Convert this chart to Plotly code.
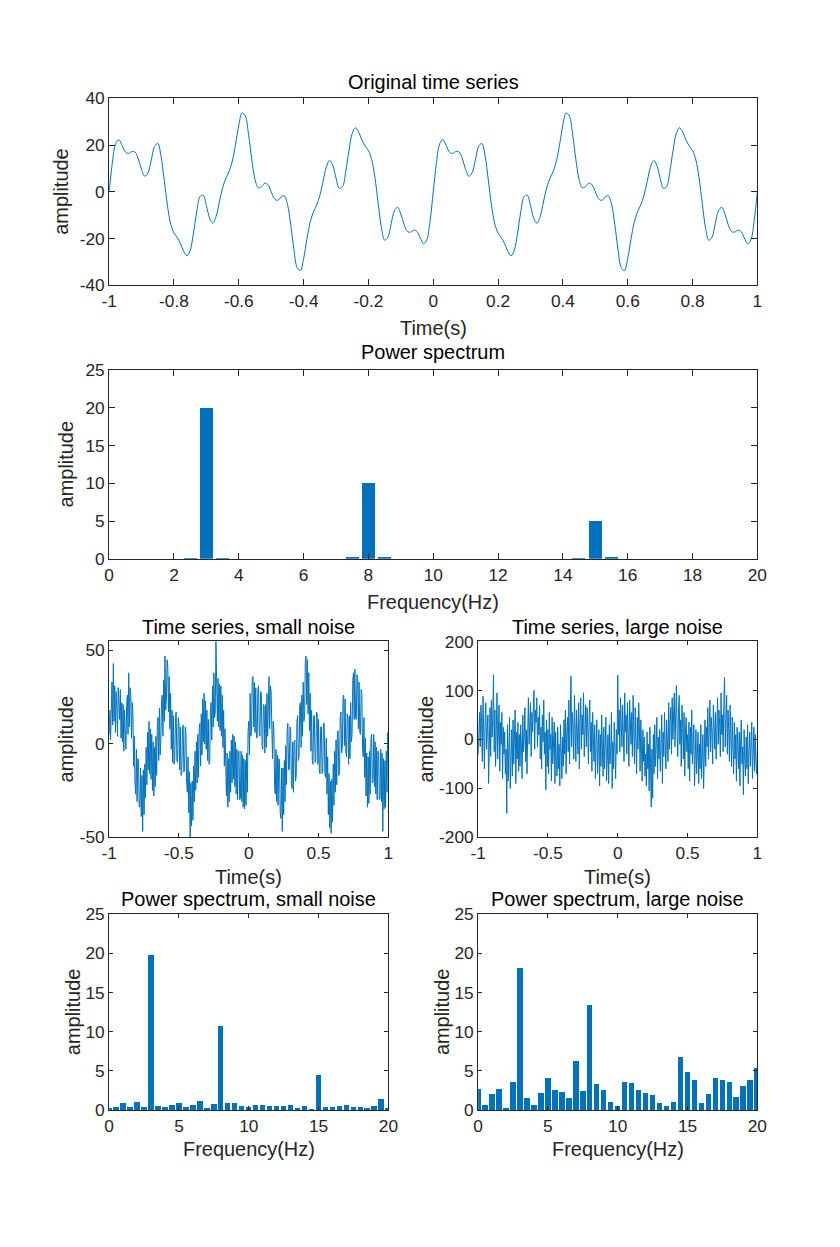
import numpy as np
import plotly.graph_objects as go

# ---------------- data ----------------
time_clean = np.linspace(-1, 1, 201)
amp_clean = [
    0, 12.61, 20.56, 22.24, 19.80, 17.06, 16.41, 17.24, 17.01, 14.06, 9.51, 6.64, 8.17, 13.69, 19.42, 20.69,
    15.27, 4.90, -6.05, -13.81, -17.63, -19.58, -22.11, -25.50, -27.40, -25.00, -17.77, -8.61, -2.15, -1.49,
    -5.88, -11.31, -13.41, -10.51, -4.38, 1.67, 5.73, 8.72, 13.14, 20.33, 28.53, 33.71, 32.42, 24.60, 13.91,
    5.30, 1.70, 2.28, 3.67, 2.98, 0, -2.98, -3.67, -2.28, -1.70, -5.30, -13.91, -24.60, -32.42, -33.71,
    -28.53, -20.33, -13.14, -8.72, -5.73, -1.67, 4.38, 10.51, 13.41, 11.31, 5.88, 1.49, 2.15, 8.61, 17.77,
    25.00, 27.40, 25.50, 22.11, 19.58, 17.63, 13.81, 6.05, -4.90, -15.27, -20.69, -19.42, -13.69, -8.17,
    -6.64, -9.51, -14.06, -17.01, -17.24, -16.41, -17.06, -19.80, -22.24, -20.56, -12.61, 0,
    12.61, 20.56, 22.24, 19.80, 17.06, 16.41, 17.24, 17.01, 14.06, 9.51, 6.64, 8.17, 13.69, 19.42, 20.69,
    15.27, 4.90, -6.05, -13.81, -17.63, -19.58, -22.11, -25.50, -27.40, -25.00, -17.77, -8.61, -2.15, -1.49,
    -5.88, -11.31, -13.41, -10.51, -4.38, 1.67, 5.73, 8.72, 13.14, 20.33, 28.53, 33.71, 32.42, 24.60, 13.91,
    5.30, 1.70, 2.28, 3.67, 2.98, 0, -2.98, -3.67, -2.28, -1.70, -5.30, -13.91, -24.60, -32.42, -33.71,
    -28.53, -20.33, -13.14, -8.72, -5.73, -1.67, 4.38, 10.51, 13.41, 11.31, 5.88, 1.49, 2.15, 8.61, 17.77,
    25.00, 27.40, 25.50, 22.11, 19.58, 17.63, 13.81, 6.05, -4.90, -15.27, -20.69, -19.42, -13.69, -8.17,
    -6.64, -9.51, -14.06, -17.01, -17.24, -16.41, -17.06, -19.80, -22.24, -20.56, -12.61, 0,
]

time_noisy = np.linspace(-1, 1, 401)
amp_small_noise = [
    5, 18, 2, 28, 33, 10, 43, 12, 31, 6, 28, 19, 4, 30, 24, 13, 29, 3, 22, 1,
    21, -4, 18, 2, -3, 20, 26, 5, 38, 9, 30, 26, 3, 22, 17, -12, 4, -21, -27, -3,
    -31, -8, -9, -34, -33, -13, -39, -17, -47, -14, -38, -11, -29, -2, -22, 6, -14, 12, -16, 8,
    -19, 5, -25, 1, -28, -2, -23, 4, -17, 11, 14, -9, 19, -6, 2, 23, 26, 4, 34, 12,
    47, 18, 24, 45, 41, 17, 36, 8, 27, -3, 18, -10, 15, -11, -8, 14, 17, -9, -10, 14,
    11, -14, 9, -17, -16, 8, 10, -15, -14, 9, 6, -21, -26, -7, -37, -15, -50, -21, -44, -20,
    -41, -12, -31, -4, -25, 1, -21, 5, -18, 8, 11, -12, 16, -6, 24, 1, 27, 0, 23, -3,
    18, -9, 13, -11, -10, 17, 22, 2, 31, 9, 38, 14, 17, 55, 38, 12, 35, 9, 32, 7,
    31, 4, 26, -2, 18, -12, 8, -23, -28, -5, -34, -8, -31, -4, -26, 2, -21, 5, -19, 4,
    -23, 1, -27, -3, -30, -4, -4, -30, -29, -4, -31, -6, -34, -8, -35, -9, -33, -5, -26, 7,
    12, -6, 27, 4, 8, 35, 36, 9, 33, 6, 30, 4, 3, 29, 31, 5, 4, 28, 27, -1,
    -3, 21, 20, -5, 21, -2, 27, 4, 33, 36, 8, 31, 28, -3, -8, 12, 7, -23, -27, -3,
    -31, -6, -33, -8, -9, -37, -40, -13, -47, -13, -38, -9, -31, -1, -22, 7, 11, -14, -14, 9,
    7, -21, -24, 1, -26, 1, 2, -20, -17, 12, 15, -9, -7, 20, 22, -2, 26, 4, 33, 12,
    16, 44, 47, 21, 45, 16, 38, 7, 27, -4, 18, -9, -11, 15, 15, -10, -9, 17, 16, -11,
    13, -14, -16, 9, 9, -16, -15, 11, 11, -16, -18, 3, -27, -7, -38, -16, -45, -20, -48, -19,
    -42, -11, -33, -4, -26, 2, -22, 6, 7, -17, -15, 14, 17, -5, -2, 25, 26, -1, 24, -4,
    -7, 16, 14, -11, 15, -8, 22, 1, 5, 34, 38, 13, 40, 14, 13, 37, 35, 8, 33, 6,
    5, 29, 27, -3, -7, 14, -18, 3, -28, -5, -34, -7, -32, -4, -27, 2, 5, -21, -20, 5,
    -23, 1, -27, -2, -30, -4, -4, -30, -29, -3, -31, -5, -47, -8, -35, -9, -34, -4, -26, 6,
    4,
]
amp_large_noise = [
    -30, 20, 55, -15, 70, 35, -45, 88, 10, -60, 40, 75, -20, 15, 50, -90, 30, 65, -35, 80,
    5, 45, 132, -25, 60, -55, 20, 95, -40, 10, 70, -65, 35, -10, 55, -80, 25, -30, 15, -70,
    -20, -151, 30, -85, -15, 45, -100, -35, 20, -75, 40, -50, -5, 60, -90, 15, -40, 35, -65, 10,
    -55, 30, -15, -80, 50, -25, 5, 65, -45, 20, -70, 40, 85, -10, 30, 75, -35, 55, 15, 90,
    100, -20, 60, 35, 85, -15, 45, 10, 70, -40, 25, -60, 50, -5, 80, -30, 15, -103, 40, -55,
    20, -70, 55, -20, 10, -85, 45, -50, -5, 35, -90, 15, -40, -75, 25, -60, -10, -95, 30, -45,
    -80, 5, -55, 40, -30, 60, -70, 15, 45, -25, 80, -50, 20, 129, -15, 55, 30, -40, 90, 5,
    -45, 60, 20, -30, 75, -60, 35, 85, -20, 50, 10, 95, -35, 40, 70, -15, 65, 25, -50, 45,
    80, -25, 35, -65, 55, 5, -45, 30, -80, -10, 40, -70, -30, 20, -95, 10, -55, 50, -20, -75,
    25, -60, -15, 45, -85, -35, 10, -90, 30, -50, -20, 55, -100, -5, -60, 35, -40, -80, 20, -30,
    131, 10, 60, -25, 85, 40, -15, 70, 25, -45, 95, 15, 50, -30, 75, 20, -55, 80, 35, -10,
    55, -35, 90, 20, -50, 65, 10, -70, 45, -20, 75, 30, -65, 40, -15, -85, 20, -45, 5, -75,
    -30, -95, 15, -60, -10, -105, 25, -50, -138, -20, -120, 10, -70, 30, -55, -15, 45, -80, 5, -40,
    20, -65, -25, 50, -90, 15, -35, 55, -10, -60, 40, 10, -45, 75, -20, 35, 65, -30, 85, 0,
    50, 95, -15, 70, 110, 20, -35, 60, 90, -10, 40, -55, 70, 25, -40, 55, -75, 15, 45, -25,
    10, -60, 35, -85, 25, -30, 60, -50, -15, 30, -95, -20, 20, -70, -40, 15, -90, -10, -60, 30,
    -80, -35, 10, -100, -20, 40, -55, 25, -15, 65, -40, 30, 80, -25, 45, 15, -50, 70, 35, -20,
    55, -40, 20, 85, -10, 60, 30, -35, 95, 10, 50, -25, 75, 127, -15, 40, 90, -30, 60, 20,
    -45, 70, 15, -55, 45, -20, -70, 35, -40, 10, -85, 25, -30, -60, 15, -95, -5, 40, -50, -15,
    -113, 20, -40, -75, 5, -60, 30, -90, -25, 15, -55, -10, 35, -80, -20, 25, -65, 10, -45, -70,
    -20,
]

freq = np.linspace(0, 20, 41)
power_clean = [
    0, 0, 0, 0, 0, 0.08, 20.0, 0.10, 0, 0, 0, 0, 0, 0, 0, 0.13,
    10.0, 0.17, 0, 0, 0, 0, 0, 0, 0, 0, 0, 0, 0, 0.07, 5.0, 0.15,
    0, 0, 0, 0, 0, 0, 0, 0, 0,
]
power_small_noise = [
    0.30, 0.34, 0.93, 0.38, 1.00, 0.34, 19.8, 0.50, 0.43, 0.68, 0.89, 0.34, 0.60, 1.15, 0.17, 0.77,
    10.77, 0.85, 0.85, 0.47, 0.38, 0.64, 0.68, 0.55, 0.50, 0.47, 0.68, 0.17, 0.47, 0.02, 4.5, 0.38,
    0.43, 0.50, 0.68, 0.34, 0.40, 0.17, 0.55, 1.40, 0.13,
]
power_large_noise = [
    2.68, 0.68, 2.08, 2.68, 0.17, 3.53, 18.1, 1.49, 0.68, 2.13, 4.09, 2.55, 2.26, 1.53, 6.3, 2.47,
    13.4, 3.36, 2.55, 1.06, 0.47, 3.53, 3.45, 2.51, 2.21, 1.96, 0.94, 0.55, 0.98, 6.8, 4.85, 3.83,
    0.94, 2.08, 4.13, 3.87, 3.57, 1.70, 3.06, 3.83, 5.36,
]

titles = ["Original time series", "Power spectrum", "Time series, small noise",
          "Time series, large noise", "Power spectrum, small noise", "Power spectrum, large noise"]
xlabels = ["Time(s)", "Frequency(Hz)", "Time(s)", "Time(s)", "Frequency(Hz)", "Frequency(Hz)"]

# ---------------- figure ----------------
W, H = 840, 1247
# the photographed page ends up slightly shrunk and shifted; target positions are given in
# photo pixels and mapped back to page pixels here
SX, SY = 856 / 840, 1267 / 1247
OFF = 8
FS = 1 / 0.982
BLUE = "#0072BD"
AX = "#262626"
FONT = "Liberation Sans, Arial, sans-serif"

fig = go.Figure()
fig.add_trace(go.Scatter(x=time_clean, y=amp_clean, mode="lines", line=dict(color=BLUE, width=1, shape="spline"),
                         xaxis="x", yaxis="y", showlegend=False))
fig.add_trace(go.Bar(x=freq, y=power_clean, width=0.4, marker=dict(color=BLUE, line=dict(width=0)),
                     xaxis="x2", yaxis="y2", showlegend=False))
fig.add_trace(go.Scatter(x=time_noisy, y=amp_small_noise, mode="lines", line=dict(color=BLUE, width=1),
                         xaxis="x3", yaxis="y3", showlegend=False))
fig.add_trace(go.Scatter(x=time_noisy, y=amp_large_noise, mode="lines", line=dict(color=BLUE, width=1),
                         xaxis="x4", yaxis="y4", showlegend=False))
fig.add_trace(go.Bar(x=freq, y=power_small_noise, width=0.4, marker=dict(color=BLUE, line=dict(width=0)),
                     xaxis="x5", yaxis="y5", showlegend=False))
fig.add_trace(go.Bar(x=freq, y=power_large_noise, width=0.4, marker=dict(color=BLUE, line=dict(width=0)),
                     xaxis="x6", yaxis="y6", showlegend=False))


def px_x(p):
    return (p * SX - OFF) / W


def px_y(p):
    return 1 - (p * SY - OFF) / H


# axes boxes in photo pixels: (left, right, top, bottom)
boxes = [
    (109.3, 759.3, 96.2, 283.2),
    (109.3, 759.3, 368.0, 556.8),
    (109.3, 389.3, 639.5, 835.5),
    (479.3, 759.3, 639.5, 835.5),
    (109.3, 389.3, 912.3, 1108.3),
    (479.3, 759.3, 912.3, 1108.3),
]
xranges = [[-1, 1], [0, 20], [-1, 1], [-1, 1], [0, 20], [0, 20]]
yranges = [[-40, 40], [0, 25], [-50.2, 54.8], [-200, 200], [0, 25], [0, 25]]
xticks = [
    ([-1, -0.8, -0.6, -0.4, -0.2, 0, 0.2, 0.4, 0.6, 0.8, 1], ["-1", "-0.8", "-0.6", "-0.4", "-0.2", "0", "0.2", "0.4", "0.6", "0.8", "1"]),
    ([0, 2, 4, 6, 8, 10, 12, 14, 16, 18, 20], ["0", "2", "4", "6", "8", "10", "12", "14", "16", "18", "20"]),
    ([-1, -0.5, 0, 0.5, 1], ["-1", "-0.5", "0", "0.5", "1"]),
    ([-1, -0.5, 0, 0.5, 1], ["-1", "-0.5", "0", "0.5", "1"]),
    ([0, 5, 10, 15, 20], ["0", "5", "10", "15", "20"]),
    ([0, 5, 10, 15, 20], ["0", "5", "10", "15", "20"]),
]
yticks = [
    ([-40, -20, 0, 20, 40], ["-40", "-20", "0", "20", "40"]),
    ([0, 5, 10, 15, 20, 25], ["0", "5", "10", "15", "20", "25"]),
    ([-50, 0, 50], ["-50", "0", "50"]),
    ([-200, -100, 0, 100, 200], ["-200", "-100", "0", "100", "200"]),
    ([0, 5, 10, 15, 20, 25], ["0", "5", "10", "15", "20", "25"]),
    ([0, 5, 10, 15, 20, 25], ["0", "5", "10", "15", "20", "25"]),
]
title_y = [80, 350, 625, 625, 897, 897]
xlabel_y = [325.5, 600, 875, 875, 1147, 1147]
ylabel_x = [61, 66, 66, 427, 73, 443]
ticklens = [6, 6, 4, 4, 4, 4]

layout = dict(
    width=W, height=H, margin=dict(l=0, r=0, t=0, b=0),
    paper_bgcolor="white", plot_bgcolor="white",
    font=dict(family=FONT, size=17 * FS, color=AX),
    bargap=0, showlegend=False,
)
annotations = []
for i in range(6):
    l, r, t, b = boxes[i]
    sx = "" if i == 0 else str(i + 1)
    common = dict(showline=True, linecolor=AX, linewidth=1, mirror="ticks", ticks="inside",
                  ticklen=ticklens[i], tickwidth=1, tickcolor=AX, showgrid=False, zeroline=False,
                  tickfont=dict(family=FONT, size=17 * FS, color=AX), fixedrange=True)
    layout["xaxis" + sx] = dict(common, domain=[px_x(l), px_x(r)], range=xranges[i],
                                tickvals=xticks[i][0], ticktext=xticks[i][1], anchor="y" + sx)
    layout["yaxis" + sx] = dict(common, domain=[px_y(b), px_y(t)], range=yranges[i],
                                tickvals=yticks[i][0], ticktext=yticks[i][1], anchor="x" + sx)
    cx = (l + r) / 2
    cy = (t + b) / 2
    annotations.append(dict(text=titles[i], x=px_x(cx), y=px_y(title_y[i]), xref="paper", yref="paper",
                            xanchor="center", yanchor="middle", showarrow=False,
                            font=dict(family=FONT, size=19.6 * FS, color="black")))
    annotations.append(dict(text=xlabels[i], x=px_x(cx), y=px_y(xlabel_y[i]), xref="paper", yref="paper",
                            xanchor="center", yanchor="middle", showarrow=False,
                            font=dict(family=FONT, size=19.6 * FS, color=AX)))
    annotations.append(dict(text="amplitude", x=px_x(ylabel_x[i]), y=px_y(cy), xref="paper", yref="paper",
                            xanchor="center", yanchor="middle", showarrow=False, textangle=-90,
                            font=dict(family=FONT, size=19.6 * FS, color=AX)))
layout["annotations"] = annotations
fig.update_layout(**layout)

post_js = ("document.body.style.margin='0';document.body.style.padding='0';"
           "document.body.style.overflow='hidden';document.documentElement.style.overflow='hidden';")
fig.write_html("out.html", config={"displayModeBar": False}, post_script=post_js)
